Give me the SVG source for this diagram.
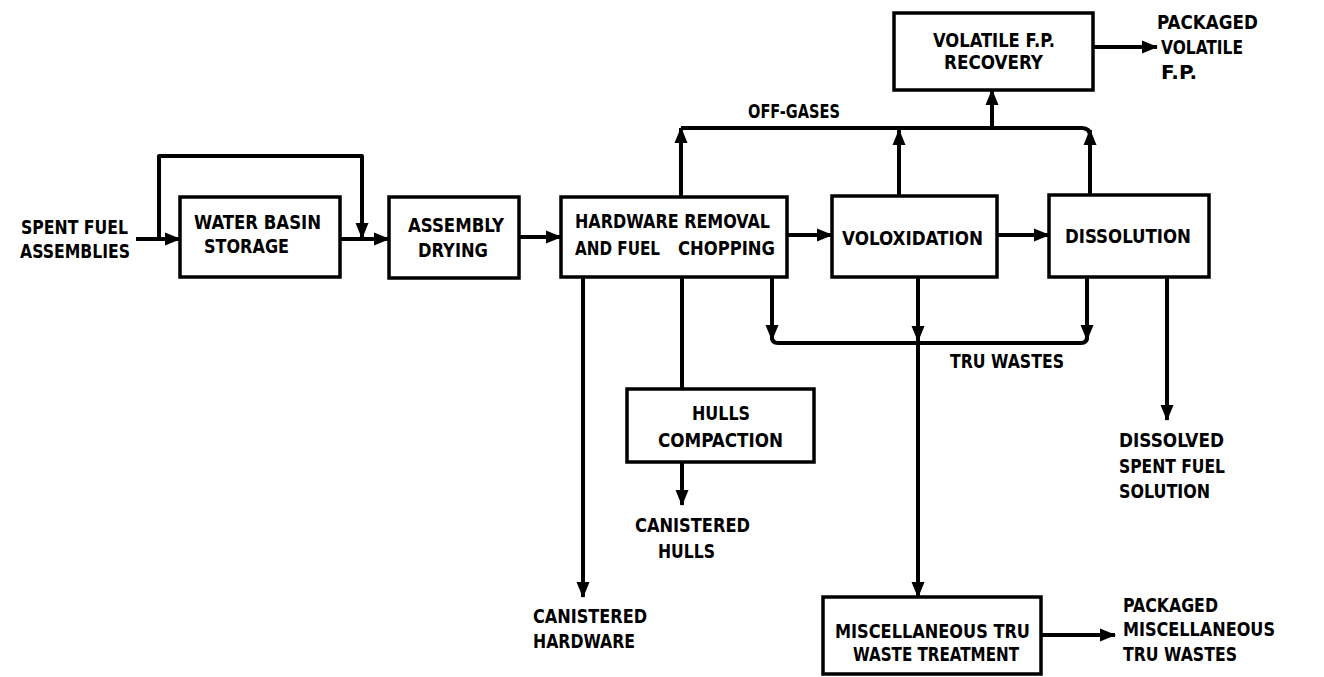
<svg xmlns="http://www.w3.org/2000/svg" width="1324" height="677" viewBox="0 0 1324 677">
<defs>
<marker id="ah" markerUnits="userSpaceOnUse" markerWidth="16" markerHeight="16" refX="15" refY="8" orient="auto" viewBox="0 0 16 16">
<path d="M0,1.5 L16,8 L0,14.5 z" fill="#000"/>
</marker>
</defs>
<style>
.box{fill:#fff;stroke:#000;stroke-width:3.5}
.ln{fill:none;stroke:#000;stroke-width:4;stroke-linejoin:round}
.ar{fill:none;stroke:#000;stroke-width:4;marker-end:url(#ah)}
text{font-family:"DejaVu Sans Condensed","DejaVu Sans","Liberation Sans",sans-serif;font-weight:bold;font-size:20px;fill:#000}
</style>
<rect width="1324" height="677" fill="#fff"/>
<g id="connectors">
<line class="ar" x1="136" y1="239" x2="180" y2="239"/>
<polyline class="ln" points="159,239 159,156 362,156 362,228"/>
<line class="ar" x1="362" y1="220" x2="362" y2="238"/>
<line class="ar" x1="340" y1="239" x2="389" y2="239"/>
<line class="ar" x1="519" y1="237" x2="561" y2="237"/>
<line class="ar" x1="787" y1="235" x2="832" y2="235"/>
<line class="ar" x1="997" y1="235" x2="1049" y2="235"/>
<path class="ln" d="M681,128 L1082,128 Q1090,128 1090,136"/>
<line class="ar" x1="681" y1="197" x2="681" y2="128"/>
<line class="ar" x1="899" y1="196" x2="899" y2="130"/>
<line class="ar" x1="1090" y1="195" x2="1090" y2="130"/>
<line class="ar" x1="992" y1="128" x2="992" y2="90"/>
<line class="ar" x1="1093" y1="47" x2="1157" y2="47"/>
<path class="ln" d="M772,277 L772,337 Q772,343 778,343 L1081,343 Q1087,343 1087,337 L1087,277"/>
<line class="ar" x1="772" y1="320" x2="772" y2="340"/>
<line class="ar" x1="1087" y1="320" x2="1087" y2="340"/>
<line class="ar" x1="918" y1="277" x2="918" y2="341"/>
<line class="ar" x1="918" y1="341" x2="918" y2="597"/>
<line class="ar" x1="1167" y1="277" x2="1167" y2="420"/>
<line class="ar" x1="583" y1="277" x2="583" y2="597"/>
<line class="ln" x1="682" y1="277" x2="682" y2="389"/>
<line class="ar" x1="682" y1="462" x2="682" y2="505"/>
<line class="ar" x1="1041" y1="635" x2="1115" y2="635"/>
</g>
<g id="spent-fuel">
<text x="21" y="234" textLength="107" lengthAdjust="spacingAndGlyphs">SPENT FUEL</text>
<text x="20" y="258" textLength="110" lengthAdjust="spacingAndGlyphs">ASSEMBLIES</text>
</g>
<g id="water-basin">
<rect class="box" x="180" y="197" width="160" height="80"/>
<text x="194" y="229" textLength="127" lengthAdjust="spacingAndGlyphs">WATER BASIN</text>
<text x="204" y="253" textLength="85" lengthAdjust="spacingAndGlyphs">STORAGE</text>
</g>
<g id="assembly-drying">
<rect class="box" x="389" y="197" width="130" height="81"/>
<text x="408" y="232" textLength="96" lengthAdjust="spacingAndGlyphs">ASSEMBLY</text>
<text x="418" y="257" textLength="70" lengthAdjust="spacingAndGlyphs">DRYING</text>
</g>
<g id="hardware-removal">
<rect class="box" x="561" y="197" width="226" height="80"/>
<text x="575" y="228" textLength="195" lengthAdjust="spacingAndGlyphs">HARDWARE REMOVAL</text>
<text x="575" y="255"><tspan textLength="85" lengthAdjust="spacingAndGlyphs">AND FUEL</tspan><tspan x="678" textLength="97" lengthAdjust="spacingAndGlyphs">CHOPPING</tspan></text>
</g>
<g id="off-gases">
<text x="748" y="118" textLength="92" lengthAdjust="spacingAndGlyphs">OFF-GASES</text>
</g>
<g id="volatile-recovery">
<rect class="box" x="894" y="13" width="199" height="77"/>
<text x="933" y="47" textLength="122" lengthAdjust="spacingAndGlyphs">VOLATILE F.P.</text>
<text x="944" y="69" textLength="99" lengthAdjust="spacingAndGlyphs">RECOVERY</text>
</g>
<g id="packaged-volatile">
<text x="1157" y="29" textLength="101" lengthAdjust="spacingAndGlyphs">PACKAGED</text>
<text x="1161" y="54" textLength="82" lengthAdjust="spacingAndGlyphs">VOLATILE</text>
<text x="1161" y="79" textLength="36" lengthAdjust="spacingAndGlyphs">F.P.</text>
</g>
<g id="voloxidation">
<rect class="box" x="832" y="196" width="165" height="81"/>
<text x="842" y="245" textLength="141" lengthAdjust="spacingAndGlyphs">VOLOXIDATION</text>
</g>
<g id="dissolution">
<rect class="box" x="1049" y="195" width="160" height="82"/>
<text x="1065" y="243" textLength="126" lengthAdjust="spacingAndGlyphs">DISSOLUTION</text>
</g>
<g id="tru-wastes">
<text x="950" y="368" textLength="114" lengthAdjust="spacingAndGlyphs">TRU WASTES</text>
</g>
<g id="dissolved-solution">
<text x="1119" y="447" textLength="105" lengthAdjust="spacingAndGlyphs">DISSOLVED</text>
<text x="1119" y="473" textLength="106" lengthAdjust="spacingAndGlyphs">SPENT FUEL</text>
<text x="1119" y="498" textLength="91" lengthAdjust="spacingAndGlyphs">SOLUTION</text>
</g>
<g id="hulls-compaction">
<rect class="box" x="627" y="389" width="187" height="73"/>
<text x="692" y="420" textLength="58" lengthAdjust="spacingAndGlyphs">HULLS</text>
<text x="658" y="447" textLength="125" lengthAdjust="spacingAndGlyphs">COMPACTION</text>
</g>
<g id="canistered-hulls">
<text x="635" y="532" textLength="115" lengthAdjust="spacingAndGlyphs">CANISTERED</text>
<text x="658" y="558" textLength="57" lengthAdjust="spacingAndGlyphs">HULLS</text>
</g>
<g id="canistered-hardware">
<text x="533" y="623" textLength="114" lengthAdjust="spacingAndGlyphs">CANISTERED</text>
<text x="533" y="648" textLength="102" lengthAdjust="spacingAndGlyphs">HARDWARE</text>
</g>
<g id="misc-tru">
<rect class="box" x="823" y="597" width="218" height="77"/>
<text x="835" y="638" textLength="195" lengthAdjust="spacingAndGlyphs">MISCELLANEOUS TRU</text>
<text x="853" y="661" textLength="166" lengthAdjust="spacingAndGlyphs">WASTE TREATMENT</text>
</g>
<g id="packaged-misc">
<text x="1123" y="612" textLength="95" lengthAdjust="spacingAndGlyphs">PACKAGED</text>
<text x="1123" y="636" textLength="152" lengthAdjust="spacingAndGlyphs">MISCELLANEOUS</text>
<text x="1123" y="661" textLength="114" lengthAdjust="spacingAndGlyphs">TRU WASTES</text>
</g>
</svg>
